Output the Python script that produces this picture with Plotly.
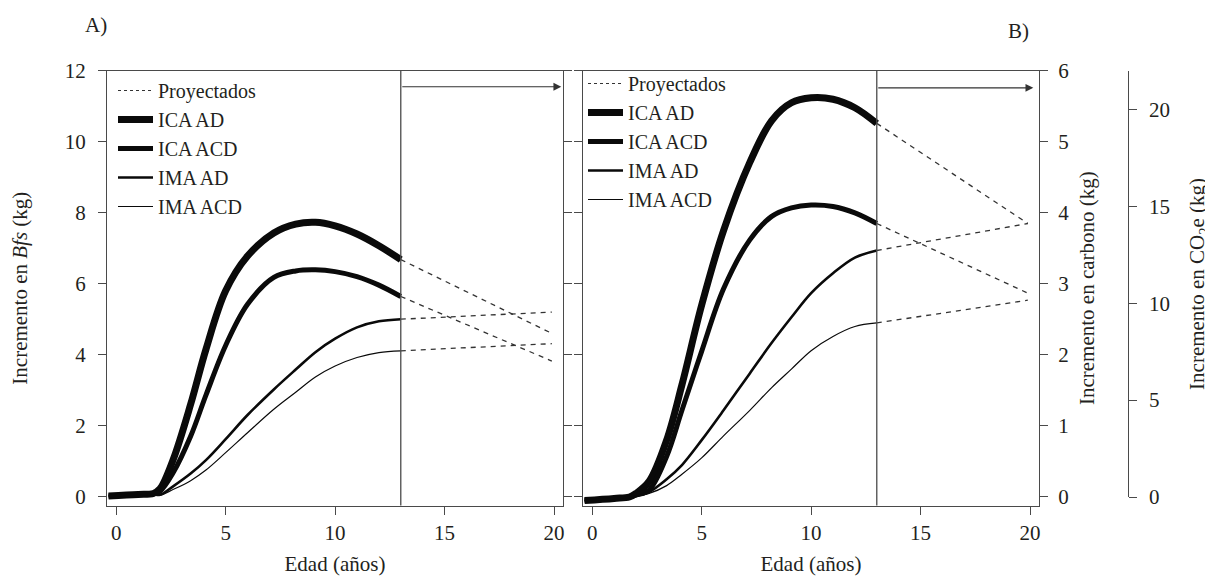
import plotly.graph_objects as go

# ---------------- data ----------------
edad = [-0.35, 1.0, 1.7, 2.0, 2.6, 3.4, 4.1, 5.0, 6.0, 7.2, 8.2, 9.1, 10.0, 11.0, 12.0, 13.0]

# Panel A: increment in Bfs (kg)
a_ica_ad = [0.02, 0.06, 0.09, 0.22, 1.04, 2.60, 4.15, 5.80, 6.78, 7.43, 7.68, 7.73, 7.63, 7.40, 7.07, 6.68]
a_ica_acd = [0.02, 0.06, 0.09, 0.15, 0.67, 1.70, 2.86, 4.26, 5.42, 6.18, 6.36, 6.39, 6.34, 6.20, 5.96, 5.64]
a_ima_ad = [0.02, 0.05, 0.06, 0.05, 0.29, 0.65, 1.03, 1.62, 2.30, 3.02, 3.58, 4.07, 4.45, 4.77, 4.94, 5.00]
a_ima_acd = [0.02, 0.05, 0.05, 0.04, 0.20, 0.45, 0.75, 1.24, 1.80, 2.46, 2.94, 3.37, 3.68, 3.92, 4.06, 4.11]

# Panel B: increment in carbon (kg)
b_ica_ad = [-0.05, -0.02, 0.00, 0.05, 0.22, 0.80, 1.58, 2.70, 3.75, 4.71, 5.30, 5.55, 5.62, 5.60, 5.48, 5.26]
b_ica_acd = [-0.05, -0.02, 0.00, 0.03, 0.10, 0.57, 1.22, 2.05, 2.93, 3.62, 3.95, 4.07, 4.11, 4.09, 4.00, 3.85]
b_ima_ad = [-0.05, -0.02, 0.00, 0.01, 0.07, 0.25, 0.45, 0.80, 1.22, 1.74, 2.17, 2.53, 2.87, 3.15, 3.37, 3.47]
b_ima_acd = [-0.05, -0.02, 0.00, 0.01, 0.05, 0.16, 0.32, 0.55, 0.86, 1.22, 1.54, 1.80, 2.06, 2.26, 2.40, 2.45]

# projected (dashed) segments: age 13 -> 19.9
edad_proy = [13.0, 19.9]
a_proy = {"ICA AD": [6.68, 4.60], "ICA ACD": [5.64, 3.82], "IMA AD": [5.00, 5.20], "IMA ACD": [4.11, 4.31]}
b_proy = {"ICA AD": [5.26, 3.85], "ICA ACD": [3.85, 2.87], "IMA AD": [3.47, 3.85], "IMA ACD": [2.45, 2.77]}

series_names = ["ICA AD", "ICA ACD", "IMA AD", "IMA ACD"]
a_series = [a_ica_ad, a_ica_acd, a_ima_ad, a_ima_acd]
b_series = [b_ica_ad, b_ica_acd, b_ima_ad, b_ima_acd]

x_ticks = [0, 5, 10, 15, 20]
a_yticks = [0, 2, 4, 6, 8, 10, 12]
b_yticks = [0, 1, 2, 3, 4, 5, 6]
co2_ticks = [0, 5, 10, 15, 20]

corte = 13.0           # limit of observed ages
flecha_a = 11.55       # arrow height, panel A
flecha_b = 5.76        # arrow height, panel B

# ---------------- style ----------------
FONT = "Liberation Serif, Times New Roman, serif"
TXT = "#231f20"
AX = "#4a4a4a"
FS = 21
widths = [7, 5, 2.6, 1.2]
W, H = 1213, 576
OFF = 8  # page body margin

def px_x(p):
    return (p - OFF) / W

def px_y(p):
    return 1 - (p - OFF) / H

fig = go.Figure()

for panel, series, proy, xa, ya, leg in [
    ("A", a_series, a_proy, "x", "y", "legend"),
    ("B", b_series, b_proy, "x2", "y2", "legend2"),
]:
    fig.add_trace(go.Scatter(x=[None], y=[None], mode="lines", name="Proyectados",
                             line=dict(color="#333", width=1.2, dash="dot"),
                             xaxis=xa, yaxis=ya, legend=leg, legendgroup=panel + "p",
                             hoverinfo="skip"))
    for name, vals, w in zip(series_names, series, widths):
        fig.add_trace(go.Scatter(x=edad, y=vals, mode="lines", name=name,
                                 line=dict(color="#0a0a0a", width=w, shape="spline", smoothing=1),
                                 xaxis=xa, yaxis=ya, legend=leg, legendgroup=panel + name))
    for name in series_names:
        fig.add_trace(go.Scatter(x=edad_proy, y=proy[name], mode="lines", showlegend=False,
                                 line=dict(color="#333", width=1.3, dash="5px,5px"),
                                 xaxis=xa, yaxis=ya))

# dummy trace to attach the CO2e axis
fig.add_trace(go.Scatter(x=[None], y=[None], xaxis="x2", yaxis="y3", showlegend=False,
                         hoverinfo="skip"))

xdomA = [px_x(107), px_x(563)]
xdomB = [px_x(583), px_x(1039)]
ydom = [px_y(505.5), px_y(70.8)]
ydom3 = [px_y(497), px_y(70.8)]

axis_common = dict(showline=True, linecolor=AX, linewidth=1.3, ticks="outside",
                   tickcolor=AX, tickwidth=1.3, ticklen=8, showgrid=False, zeroline=False,
                   automargin=False,
                   tickfont=dict(family=FONT, size=FS, color=TXT))

title_font = dict(family=FONT, size=FS, color=TXT)
legend_font = dict(family=FONT, size=20, color=TXT)

fig.update_layout(
    width=W, height=H,
    margin=dict(l=0, r=0, t=0, b=0, pad=0, autoexpand=False),
    paper_bgcolor="white", plot_bgcolor="rgba(0,0,0,0)",
    showlegend=True,
    xaxis=dict(domain=xdomA, range=[-0.42, 20.41], tickvals=x_ticks, mirror=True, anchor="y",
               title=dict(text="Edad (años)", font=title_font, standoff=12), **axis_common),
    yaxis=dict(domain=ydom, range=[-0.25, 12.0], tickvals=a_yticks, mirror="ticks", anchor="x",
               ticklabelstandoff=8,
               title=dict(text="Incremento en <i>Bfs</i> (kg)", font=title_font, standoff=32),
               **axis_common),
    xaxis2=dict(domain=xdomB, range=[-0.42, 20.41], tickvals=x_ticks, mirror=True, anchor="y2",
                title=dict(text="Edad (años)", font=title_font, standoff=12), **axis_common),
    yaxis2=dict(domain=ydom, range=[-0.12, 6.0], tickvals=b_yticks, mirror="ticks", anchor="x2",
                side="right", ticklabelstandoff=6,
                title=dict(text="Incremento en carbono (kg)", font=title_font, standoff=10),
                **axis_common),
    yaxis3=dict(domain=ydom3, range=[0, 22], tickvals=co2_ticks, anchor="free",
                position=px_x(1127.7), side="right", ticklabelstandoff=8,
                title=dict(text="Incremento en CO<sub>2</sub>e (kg)", font=title_font, standoff=20),
                **axis_common),
    legend=dict(x=px_x(113), y=px_y(71), xanchor="left", yanchor="top",
                bgcolor="rgba(0,0,0,0)", font=legend_font,
                itemwidth=35, tracegroupgap=0, traceorder="grouped"),
    legend2=dict(x=px_x(583), y=px_y(64), xanchor="left", yanchor="top",
                 bgcolor="rgba(0,0,0,0)", font=legend_font,
                 itemwidth=35, tracegroupgap=0, traceorder="grouped"),
)

for xa, ya in [("x", "y"), ("x2", "y2")]:
    fig.add_shape(type="line", x0=corte, x1=corte, y0=0, y1=1, xref=xa, yref=ya + " domain",
                  line=dict(color=AX, width=1.3))

fig.add_annotation(x=20.33, y=flecha_a, ax=corte, ay=flecha_a, xref="x", yref="y",
                   axref="x", ayref="y", text="", showarrow=True, arrowhead=2,
                   arrowsize=1.3, arrowwidth=1.2, arrowcolor="#333")
fig.add_annotation(x=20.15, y=flecha_b, ax=corte, ay=flecha_b, xref="x2", yref="y2",
                   axref="x2", ayref="y2", text="", showarrow=True, arrowhead=2,
                   arrowsize=1.3, arrowwidth=1.2, arrowcolor="#333")

fig.add_annotation(x=px_x(96), y=px_y(25), xref="paper", yref="paper", text="A)",
                   xanchor="center", yanchor="middle",
                   showarrow=False, font=dict(family=FONT, size=FS, color=TXT))
fig.add_annotation(x=px_x(1019), y=px_y(31), xref="paper", yref="paper", text="B)",
                   xanchor="center", yanchor="middle",
                   showarrow=False, font=dict(family=FONT, size=FS, color=TXT))

fig.write_html("out.html")
